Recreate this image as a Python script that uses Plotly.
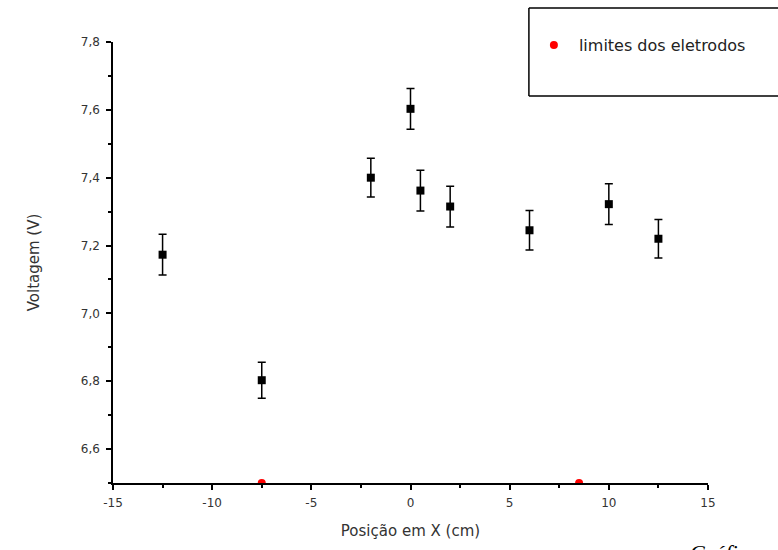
import plotly.graph_objects as go

# Data
pos_x = [-12.5, -7.5, -2, 0, 0.5, 2, 6, 10, 12.5]
voltage = [7.173, 6.803, 7.40, 7.603, 7.362, 7.315, 7.245, 7.322, 7.22]
voltage_err = [0.06, 0.053, 0.057, 0.06, 0.06, 0.06, 0.058, 0.06, 0.057]

electrode_x = [-7.5, 8.5]
electrode_y = [6.5, 6.5]

x_ticks = [-15, -10, -5, 0, 5, 10, 15]
x_tick_text = ["-15", "-10", "-5", "0", "5", "10", "15"]
y_ticks = [6.6, 6.8, 7.0, 7.2, 7.4, 7.6, 7.8]

fig = go.Figure()

fig.add_trace(go.Scatter(
    x=pos_x, y=voltage, mode="markers",
    marker=dict(symbol="square", size=8, color="black"),
    error_y=dict(type="data", array=voltage_err, visible=True,
                 color="black", thickness=1.5, width=4),
    showlegend=False,
))

fig.add_trace(go.Scatter(
    x=electrode_x, y=electrode_y, mode="markers",
    name="limites dos eletrodos",
    marker=dict(symbol="circle", size=8, color="#ff0000"),
    cliponaxis=True,
    showlegend=True,
))

FAM = "DejaVu Sans, Verdana, sans-serif"
tick_font = dict(family=FAM, size=12, color="#333333")
title_font = dict(family=FAM, size=15, color="#333333")

box_line = dict(color="black", width=1.5)

fig.update_layout(
    width=778, height=550,
    margin=dict(l=113, r=70, t=42, b=67, autoexpand=False),
    paper_bgcolor="white", plot_bgcolor="white",
    separators=",.",
    xaxis=dict(
        range=[-15, 15], tickvals=x_ticks, ticktext=x_tick_text,
        showgrid=False, zeroline=False,
        showline=True, linecolor="black", linewidth=1.5,
        ticks="outside", ticklen=5, tickwidth=1.5, tickcolor="black",
        minor=dict(dtick=2.5, ticks="outside", ticklen=3, tickwidth=1.5, tickcolor="black", showgrid=False),
        tickfont=tick_font, ticklabelstandoff=3,
        title=dict(text="Posição em X (cm)", font=title_font, standoff=16),
    ),
    yaxis=dict(
        range=[6.5, 7.8], tickvals=y_ticks, tickformat=".1f",
        showgrid=False, zeroline=False,
        showline=True, linecolor="black", linewidth=1.5,
        ticks="outside", ticklen=5, tickwidth=1.5, tickcolor="black",
        minor=dict(dtick=0.1, tick0=6.5, ticks="outside", ticklen=3, tickwidth=1.5, tickcolor="black", showgrid=False),
        tickfont=tick_font, ticklabelstandoff=4,
        title=dict(text="Voltagem (V)", font=title_font, standoff=38),
    ),
    legend=dict(
        x=0.699, y=0.993, xanchor="left", yanchor="middle",
        bgcolor="rgba(0,0,0,0)", borderwidth=0, itemwidth=40,
        font=dict(family=FAM, size=16, color="#222222"),
    ),
    shapes=[
        dict(type="line", xref="paper", yref="paper", x0=0.699, x1=1.3, y0=1.077, y1=1.077, line=box_line),
        dict(type="line", xref="paper", yref="paper", x0=0.699, x1=0.699, y0=0.8776, y1=1.077, line=box_line),
        dict(type="line", xref="paper", yref="paper", x0=0.699, x1=1.3, y0=0.8776, y1=0.8776, line=box_line),
    ],
    annotations=[dict(
        text="Gráfico", xref="paper", yref="paper",
        x=0.966, y=-0.124, xanchor="left", yanchor="top",
        showarrow=False,
        font=dict(family="Liberation Serif, Times New Roman, serif", size=22, color="black", style="italic"),
    )],
)

fig.write_html("out.html")
